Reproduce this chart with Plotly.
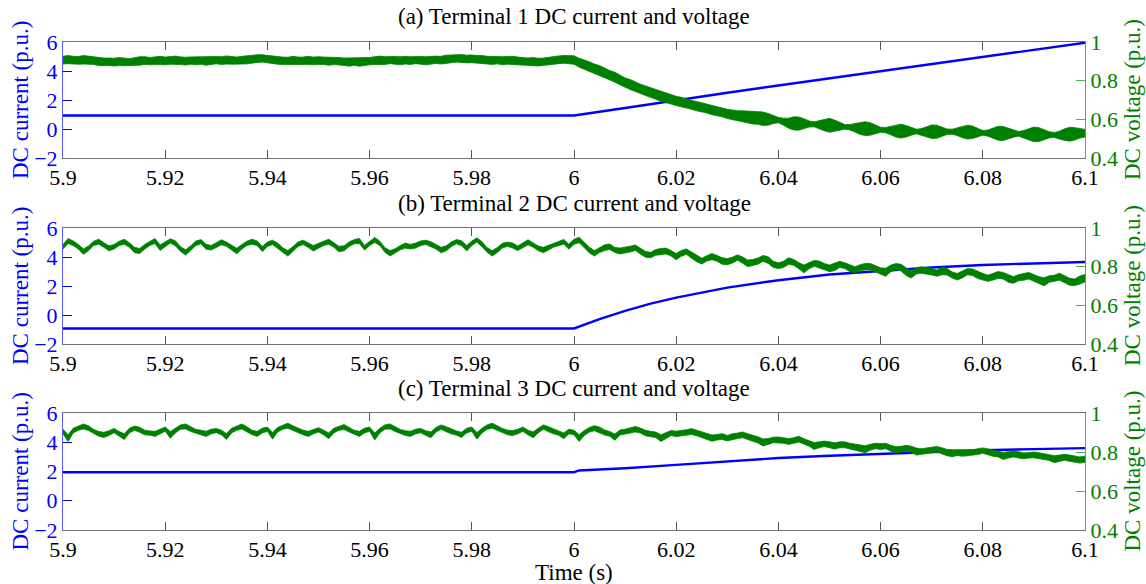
import plotly.graph_objects as go

# ---------------- data ----------------
time = [round(5.9 + i / 1000, 3) for i in range(201)]  # sample grid, 1 ms

x_ticks = [5.9, 5.92, 5.94, 5.96, 5.98, 6.0, 6.02, 6.04, 6.06, 6.08, 6.1]
x_labels = ["5.9", "5.92", "5.94", "5.96", "5.98", "6", "6.02", "6.04", "6.06", "6.08", "6.1"]
cur_ticks = [-2, 0, 2, 4, 6]
volt_ticks = [0.4, 0.6, 0.8, 1.0]
volt_labels = ["0.4", "0.6", "0.8", "1"]

titles = ["(a) Terminal 1 DC current and voltage",
          "(b) Terminal 2 DC current and voltage",
          "(c) Terminal 3 DC current and voltage"]

# DC currents (p.u.)
cur_t1 = [5.9, 6.0, 6.01, 6.02, 6.03, 6.04, 6.05, 6.06, 6.07, 6.08, 6.09, 6.1]
cur_1 = [0.93, 0.93, 1.45, 2.0, 2.5, 3.0, 3.5, 3.98, 4.47, 4.96, 5.45, 5.95]
cur_t2 = [5.9, 6.0, 6.005, 6.01, 6.015, 6.02, 6.03, 6.04, 6.05, 6.06, 6.07, 6.08, 6.09, 6.1]
cur_2 = [-0.93, -0.93, -0.28, 0.28, 0.78, 1.2, 1.89, 2.4, 2.79, 3.05, 3.28, 3.45, 3.57, 3.66]
cur_t3 = [5.9, 6.0, 6.001, 6.01, 6.02, 6.03, 6.04, 6.05, 6.06, 6.07, 6.08, 6.09, 6.1]
cur_3 = [1.95, 1.95, 2.07, 2.22, 2.45, 2.7, 2.92, 3.08, 3.22, 3.35, 3.45, 3.53, 3.6]

# DC voltages (p.u.), centre of the ripple band, 5.900 .. 6.100 s
volt_1 = [
    0.906, 0.909, 0.907, 0.905, 0.908, 0.906, 0.903, 0.899, 0.897, 0.898,
    0.896, 0.899, 0.897, 0.895, 0.899, 0.902, 0.904, 0.901, 0.903, 0.905,
    0.902, 0.904, 0.906, 0.903, 0.901, 0.904, 0.903, 0.905, 0.902, 0.904,
    0.906, 0.904, 0.907, 0.905, 0.903, 0.906, 0.908, 0.911, 0.914, 0.915,
    0.912, 0.909, 0.905, 0.903, 0.901, 0.904, 0.902, 0.903, 0.905, 0.902,
    0.904, 0.903, 0.901, 0.903, 0.900, 0.898, 0.896, 0.899, 0.897, 0.899,
    0.901, 0.904, 0.906, 0.904, 0.907, 0.905, 0.903, 0.906, 0.904, 0.907,
    0.905, 0.903, 0.906, 0.908, 0.906, 0.910, 0.913, 0.915, 0.914, 0.912,
    0.913, 0.911, 0.909, 0.906, 0.904, 0.906, 0.903, 0.905, 0.904, 0.902,
    0.899, 0.897, 0.899, 0.896, 0.898, 0.901, 0.905, 0.908, 0.910, 0.908,
    0.907, 0.893, 0.884, 0.873, 0.862, 0.852, 0.840, 0.828, 0.818, 0.802,
    0.790, 0.780, 0.768, 0.758, 0.748, 0.738, 0.728, 0.718, 0.710, 0.702,
    0.695, 0.689, 0.681, 0.675, 0.668, 0.662, 0.656, 0.648, 0.642, 0.636,
    0.628, 0.622, 0.619, 0.616, 0.612, 0.608, 0.606, 0.603, 0.600, 0.598,
    0.596, 0.588, 0.580, 0.579, 0.578, 0.577, 0.576, 0.574, 0.573, 0.571,
    0.569, 0.566, 0.563, 0.561, 0.559, 0.556, 0.554, 0.552, 0.550, 0.548,
    0.546, 0.544, 0.542, 0.540, 0.539, 0.538, 0.538, 0.537, 0.536, 0.536,
    0.536, 0.536, 0.536, 0.536, 0.536, 0.536, 0.535, 0.534, 0.533, 0.531,
    0.530, 0.529, 0.528, 0.528, 0.527, 0.526, 0.525, 0.525, 0.524, 0.523,
    0.522, 0.521, 0.520, 0.520, 0.519, 0.519, 0.521, 0.523, 0.525, 0.527,
    0.528]
volt_2 = [
    0.903, 0.933, 0.921, 0.903, 0.878, 0.895, 0.921, 0.929, 0.912, 0.895,
    0.903, 0.921, 0.929, 0.912, 0.886, 0.881, 0.903, 0.921, 0.933, 0.898,
    0.916, 0.933, 0.921, 0.891, 0.874, 0.895, 0.921, 0.929, 0.903, 0.898,
    0.912, 0.926, 0.916, 0.898, 0.881, 0.903, 0.921, 0.929, 0.921, 0.891,
    0.916, 0.926, 0.909, 0.886, 0.869, 0.891, 0.916, 0.926, 0.912, 0.895,
    0.909, 0.921, 0.929, 0.912, 0.891, 0.895, 0.916, 0.929, 0.933, 0.898,
    0.921, 0.938, 0.921, 0.886, 0.869, 0.881, 0.898, 0.909, 0.903, 0.909,
    0.921, 0.926, 0.916, 0.903, 0.886, 0.895, 0.916, 0.929, 0.921, 0.895,
    0.921, 0.938, 0.916, 0.886, 0.869, 0.886, 0.909, 0.916, 0.909, 0.895,
    0.909, 0.926, 0.912, 0.895, 0.886, 0.898, 0.912, 0.921, 0.929, 0.903,
    0.929, 0.938, 0.912, 0.886, 0.869, 0.886, 0.898, 0.903, 0.886, 0.881,
    0.886, 0.891, 0.898, 0.881, 0.864, 0.860, 0.874, 0.878, 0.881, 0.869,
    0.852, 0.869, 0.878, 0.860, 0.843, 0.829, 0.843, 0.852, 0.843, 0.829,
    0.826, 0.834, 0.847, 0.834, 0.817, 0.822, 0.829, 0.843, 0.834, 0.812,
    0.805, 0.812, 0.829, 0.822, 0.805, 0.788, 0.805, 0.817, 0.812, 0.800,
    0.791, 0.800, 0.812, 0.805, 0.791, 0.783, 0.795, 0.800, 0.800, 0.788,
    0.778, 0.771, 0.791, 0.800, 0.795, 0.774, 0.760, 0.778, 0.783, 0.778,
    0.774, 0.766, 0.778, 0.774, 0.757, 0.748, 0.760, 0.774, 0.771, 0.757,
    0.748, 0.740, 0.748, 0.757, 0.753, 0.740, 0.731, 0.743, 0.748, 0.753,
    0.743, 0.731, 0.722, 0.736, 0.740, 0.748, 0.736, 0.722, 0.719, 0.731,
    0.740]
volt_3 = [
    0.905, 0.871, 0.910, 0.922, 0.931, 0.922, 0.905, 0.893, 0.888, 0.897,
    0.910, 0.893, 0.879, 0.910, 0.922, 0.914, 0.900, 0.897, 0.893, 0.905,
    0.917, 0.888, 0.910, 0.928, 0.931, 0.917, 0.905, 0.900, 0.893, 0.905,
    0.910, 0.900, 0.879, 0.910, 0.922, 0.931, 0.917, 0.900, 0.893, 0.910,
    0.917, 0.883, 0.914, 0.928, 0.935, 0.922, 0.910, 0.900, 0.893, 0.905,
    0.914, 0.900, 0.883, 0.910, 0.922, 0.928, 0.914, 0.900, 0.893, 0.910,
    0.917, 0.879, 0.910, 0.928, 0.931, 0.917, 0.905, 0.897, 0.893, 0.905,
    0.910, 0.897, 0.888, 0.914, 0.928, 0.917, 0.905, 0.897, 0.888, 0.910,
    0.917, 0.883, 0.910, 0.928, 0.935, 0.922, 0.910, 0.900, 0.897, 0.905,
    0.917, 0.900, 0.888, 0.910, 0.928, 0.917, 0.905, 0.897, 0.883, 0.905,
    0.900, 0.871, 0.897, 0.914, 0.922, 0.914, 0.900, 0.893, 0.876, 0.900,
    0.905, 0.910, 0.917, 0.910, 0.897, 0.893, 0.888, 0.871, 0.883, 0.897,
    0.893, 0.897, 0.900, 0.905, 0.897, 0.888, 0.879, 0.871, 0.876, 0.879,
    0.871, 0.879, 0.883, 0.888, 0.879, 0.871, 0.862, 0.849, 0.854, 0.862,
    0.862, 0.859, 0.854, 0.859, 0.866, 0.854, 0.845, 0.831, 0.837, 0.842,
    0.837, 0.831, 0.837, 0.837, 0.831, 0.825, 0.819, 0.814, 0.825, 0.831,
    0.828, 0.831, 0.819, 0.811, 0.814, 0.819, 0.814, 0.802, 0.802, 0.807,
    0.811, 0.814, 0.807, 0.797, 0.794, 0.797, 0.794, 0.794, 0.797, 0.802,
    0.807, 0.801, 0.794, 0.790, 0.780, 0.785, 0.790, 0.785, 0.780, 0.783,
    0.785, 0.780, 0.776, 0.773, 0.763, 0.768, 0.773, 0.768, 0.763, 0.759,
    0.763]

# half-height of the high-frequency ripple band (p.u.)
ripple_1 = [
    0.020, 0.021, 0.019, 0.020, 0.022, 0.020, 0.019, 0.021, 0.020, 0.019,
    0.020, 0.021, 0.020, 0.019, 0.020, 0.022, 0.020, 0.019, 0.020, 0.021,
    0.020, 0.019, 0.021, 0.020, 0.020, 0.019, 0.021, 0.020, 0.022, 0.020,
    0.019, 0.020, 0.021, 0.020, 0.019, 0.020, 0.021, 0.022, 0.020, 0.019,
    0.020, 0.021, 0.020, 0.019, 0.020, 0.022, 0.020, 0.019, 0.021, 0.020,
    0.020, 0.019, 0.021, 0.020, 0.020, 0.019, 0.021, 0.020, 0.022, 0.020,
    0.019, 0.020, 0.021, 0.020, 0.019, 0.020, 0.021, 0.020, 0.020, 0.019,
    0.020, 0.021, 0.020, 0.019, 0.020, 0.022, 0.020, 0.019, 0.021, 0.020,
    0.020, 0.019, 0.021, 0.020, 0.020, 0.019, 0.021, 0.020, 0.022, 0.020,
    0.019, 0.020, 0.021, 0.020, 0.019, 0.020, 0.021, 0.020, 0.020, 0.021,
    0.022, 0.023, 0.024, 0.025, 0.024, 0.026, 0.025, 0.024, 0.026, 0.025,
    0.024, 0.026, 0.025, 0.024, 0.025, 0.026, 0.024, 0.025, 0.024, 0.023,
    0.024, 0.025, 0.024, 0.023, 0.024, 0.025, 0.023, 0.024, 0.025, 0.023,
    0.024, 0.025, 0.026, 0.028, 0.030, 0.032, 0.032, 0.035, 0.030, 0.020,
    0.014, 0.018, 0.026, 0.034, 0.034, 0.026, 0.016, 0.013, 0.020, 0.030,
    0.036, 0.030, 0.020, 0.012, 0.014, 0.022, 0.032, 0.036, 0.032, 0.022,
    0.013, 0.014, 0.022, 0.032, 0.036, 0.030, 0.020, 0.012, 0.016, 0.026,
    0.035, 0.034, 0.026, 0.014, 0.013, 0.020, 0.030, 0.036, 0.032, 0.022,
    0.012, 0.016, 0.026, 0.036, 0.036, 0.028, 0.018, 0.012, 0.018, 0.028,
    0.038, 0.036, 0.026, 0.016, 0.013, 0.020, 0.030, 0.036, 0.032, 0.024,
    0.020]
ripple_2 = [
    0.012, 0.013, 0.012, 0.012, 0.014, 0.012, 0.011, 0.013, 0.012, 0.013,
    0.012, 0.011, 0.013, 0.012, 0.014, 0.013, 0.012, 0.011, 0.013, 0.014,
    0.012, 0.011, 0.013, 0.012, 0.014, 0.013, 0.012, 0.011, 0.013, 0.012,
    0.012, 0.013, 0.011, 0.012, 0.014, 0.012, 0.011, 0.013, 0.012, 0.013,
    0.012, 0.011, 0.013, 0.012, 0.014, 0.013, 0.012, 0.011, 0.013, 0.014,
    0.012, 0.011, 0.013, 0.012, 0.014, 0.013, 0.012, 0.011, 0.013, 0.012,
    0.012, 0.013, 0.011, 0.012, 0.014, 0.012, 0.011, 0.013, 0.012, 0.013,
    0.012, 0.011, 0.013, 0.012, 0.014, 0.013, 0.012, 0.011, 0.013, 0.014,
    0.012, 0.011, 0.013, 0.012, 0.014, 0.013, 0.012, 0.011, 0.013, 0.012,
    0.012, 0.013, 0.011, 0.012, 0.014, 0.012, 0.011, 0.013, 0.012, 0.013,
    0.013, 0.014, 0.013, 0.015, 0.014, 0.013, 0.015, 0.014, 0.013, 0.015,
    0.014, 0.015, 0.014, 0.016, 0.015, 0.014, 0.015, 0.016, 0.015, 0.014,
    0.016, 0.015, 0.014, 0.016, 0.017, 0.015, 0.014, 0.016, 0.015, 0.017,
    0.016, 0.015, 0.014, 0.016, 0.017, 0.015, 0.016, 0.015, 0.017, 0.016,
    0.015, 0.016, 0.017, 0.015, 0.016, 0.020, 0.016, 0.015, 0.017, 0.016,
    0.017, 0.020, 0.016, 0.015, 0.017, 0.016, 0.015, 0.017, 0.016, 0.017,
    0.016, 0.021, 0.017, 0.016, 0.017, 0.020, 0.018, 0.016, 0.017, 0.016,
    0.017, 0.016, 0.020, 0.017, 0.016, 0.017, 0.018, 0.016, 0.017, 0.018,
    0.017, 0.016, 0.017, 0.018, 0.017, 0.021, 0.017, 0.016, 0.018, 0.017,
    0.016, 0.017, 0.021, 0.017, 0.016, 0.018, 0.017, 0.018, 0.017, 0.021,
    0.019]
ripple_3 = [
    0.012, 0.017, 0.012, 0.011, 0.013, 0.012, 0.011, 0.012, 0.013, 0.012,
    0.011, 0.012, 0.015, 0.012, 0.011, 0.013, 0.012, 0.011, 0.013, 0.012,
    0.011, 0.017, 0.012, 0.011, 0.013, 0.012, 0.011, 0.012, 0.013, 0.012,
    0.011, 0.012, 0.015, 0.012, 0.011, 0.013, 0.012, 0.011, 0.013, 0.012,
    0.011, 0.017, 0.012, 0.011, 0.013, 0.012, 0.011, 0.012, 0.013, 0.012,
    0.011, 0.012, 0.015, 0.012, 0.011, 0.013, 0.012, 0.011, 0.013, 0.012,
    0.011, 0.018, 0.012, 0.011, 0.013, 0.012, 0.011, 0.012, 0.013, 0.012,
    0.011, 0.012, 0.015, 0.012, 0.011, 0.013, 0.012, 0.011, 0.013, 0.012,
    0.011, 0.017, 0.012, 0.011, 0.013, 0.012, 0.011, 0.012, 0.013, 0.012,
    0.011, 0.012, 0.015, 0.012, 0.011, 0.013, 0.012, 0.011, 0.015, 0.012,
    0.012, 0.017, 0.013, 0.012, 0.013, 0.014, 0.013, 0.012, 0.016, 0.013,
    0.012, 0.013, 0.014, 0.013, 0.014, 0.013, 0.014, 0.017, 0.014, 0.013,
    0.014, 0.013, 0.014, 0.015, 0.014, 0.013, 0.014, 0.016, 0.014, 0.015,
    0.014, 0.015, 0.014, 0.015, 0.014, 0.015, 0.016, 0.018, 0.015, 0.014,
    0.015, 0.014, 0.015, 0.014, 0.015, 0.014, 0.015, 0.018, 0.015, 0.014,
    0.015, 0.016, 0.015, 0.015, 0.014, 0.015, 0.016, 0.018, 0.015, 0.014,
    0.015, 0.014, 0.015, 0.016, 0.015, 0.015, 0.016, 0.018, 0.015, 0.014,
    0.015, 0.014, 0.015, 0.016, 0.018, 0.015, 0.016, 0.015, 0.014, 0.015,
    0.014, 0.015, 0.016, 0.015, 0.018, 0.016, 0.015, 0.016, 0.015, 0.014,
    0.015, 0.016, 0.015, 0.016, 0.018, 0.016, 0.015, 0.016, 0.017, 0.016,
    0.016]

currents = [(cur_t1, cur_1), (cur_t2, cur_2), (cur_t3, cur_3)]
voltages = [(volt_1, ripple_1), (volt_2, ripple_2), (volt_3, ripple_3)]

# ---------------- styling ----------------
BLUE = "#0000ff"
GREEN = "#008000"
GREEN_AX = "#4fae4f"
FONT = "Liberation Serif"
FS_TICK = 22
FS_TEXT = 23

W, H = 1146, 584
ML, MR, MT, MB = 63, 61, 42, 54
plot_h = H - MT - MB
panels_px = [(42, 158), (228, 344), (413, 530)]  # top, bottom pixel rows


def pix_to_paper(yp):
    return (H - MB - yp) / plot_h


fig = go.Figure()
layout = {}
annotations = []

for i in range(3):
    xa = "x" if i == 0 else f"x{i + 1}"
    yl_n = 2 * i + 1
    yr_n = 2 * i + 2
    yl = "y" if yl_n == 1 else f"y{yl_n}"
    yr = f"y{yr_n}"

    ct, cv = currents[i]
    fig.add_trace(go.Scatter(x=ct, y=cv, mode="lines", xaxis=xa, yaxis=yl,
                             line=dict(color=BLUE, width=2.4), showlegend=False,
                             hoverinfo="skip"))

    vc, rp = voltages[i]
    upper = [c + r for c, r in zip(vc, rp)]
    lower = [c - r for c, r in zip(vc, rp)]
    fig.add_trace(go.Scatter(x=time + time[::-1], y=upper + lower[::-1],
                             mode="lines", fill="toself", fillcolor=GREEN,
                             xaxis=xa, yaxis=yr,
                             line=dict(color=GREEN, width=0.8), showlegend=False,
                             hoverinfo="skip"))

    top, bot = panels_px[i]
    dom = [pix_to_paper(bot), pix_to_paper(top)]

    xkey = "xaxis" if i == 0 else f"xaxis{i + 1}"
    layout[xkey] = dict(
        domain=[0, 1], anchor=yl, range=[5.9, 6.1],
        tickvals=x_ticks, ticktext=x_labels,
        ticks="inside", ticklen=8, tickcolor="#555555", tickwidth=1,
        showline=True, linecolor="#6f6f6f", linewidth=1, mirror="ticks",
        showgrid=False, zeroline=False,
        tickfont=dict(family=FONT, size=FS_TICK, color="black"),
    )
    ylkey = "yaxis" if yl_n == 1 else f"yaxis{yl_n}"
    layout[ylkey] = dict(
        domain=dom, anchor=xa, range=[-2, 6], tickvals=cur_ticks,
        ticks="inside", ticklen=9, tickcolor=BLUE, tickwidth=1,
        showline=True, linecolor="#5a5aff", linewidth=1,
        showgrid=False, zeroline=False,
        tickfont=dict(family=FONT, size=FS_TICK, color=BLUE),
    )
    layout[f"yaxis{yr_n}"] = dict(
        domain=dom, anchor=xa, overlaying=yl, side="right",
        range=[0.4, 1.0], tickvals=volt_ticks, ticktext=volt_labels,
        ticks="inside", ticklen=9, tickcolor=GREEN_AX, tickwidth=1,
        showline=True, linecolor=GREEN_AX, linewidth=1,
        showgrid=False, zeroline=False,
        tickfont=dict(family=FONT, size=FS_TICK, color=GREEN),
    )

    ymid = (dom[0] + dom[1]) / 2
    annotations.append(dict(text=titles[i], x=0.5, y=pix_to_paper(top - 25),
                            xref="paper", yref="paper", showarrow=False,
                            font=dict(family=FONT, size=FS_TEXT, color="black"),
                            xanchor="center", yanchor="middle"))
    annotations.append(dict(text="DC current (p.u.)", x=(20 - ML) / (W - ML - MR),
                            y=ymid, xref="paper", yref="paper", showarrow=False,
                            textangle=-90,
                            font=dict(family=FONT, size=FS_TEXT, color=BLUE),
                            xanchor="center", yanchor="middle"))
    annotations.append(dict(text="DC voltage (p.u.)", x=(1132 - ML) / (W - ML - MR),
                            y=ymid, xref="paper", yref="paper", showarrow=False,
                            textangle=-90,
                            font=dict(family=FONT, size=FS_TEXT, color=GREEN),
                            xanchor="center", yanchor="middle"))

annotations.append(dict(text="Time (s)", x=0.5, y=pix_to_paper(572),
                        xref="paper", yref="paper", showarrow=False,
                        font=dict(family=FONT, size=FS_TEXT, color="black"),
                        xanchor="center", yanchor="middle"))

fig.update_layout(
    width=W, height=H, autosize=False,
    margin=dict(l=ML, r=MR, t=MT, b=MB, pad=0),
    paper_bgcolor="white", plot_bgcolor="white",
    showlegend=False, annotations=annotations,
    **layout,
)

fig.write_html("out.html")
